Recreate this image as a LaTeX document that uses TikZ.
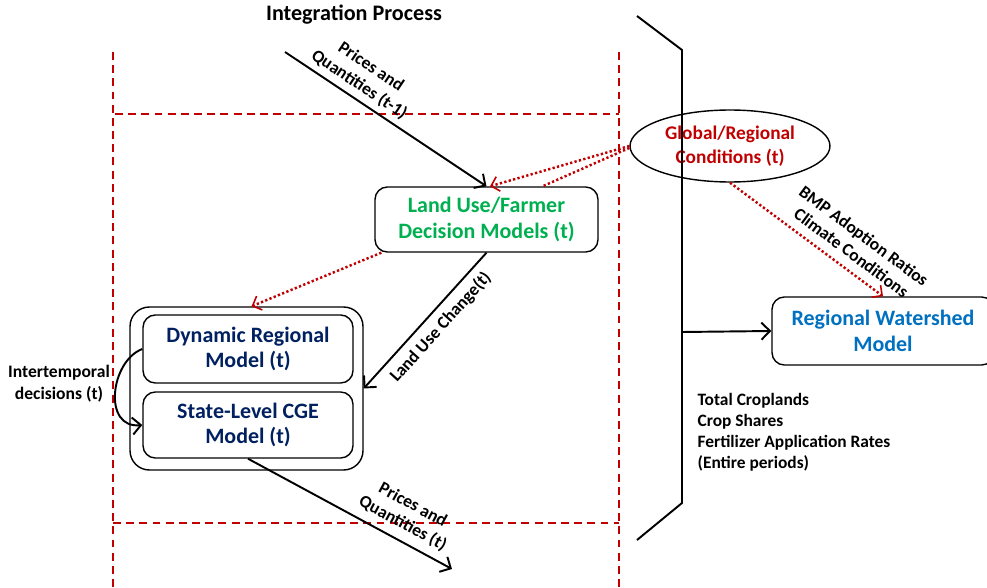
\documentclass[tikz,border=0pt]{standalone}
\usepackage{fontspec}
\setmainfont{Carlito}
\usetikzlibrary{arrows.meta,shapes.geometric}
\definecolor{redline}{RGB}{192,0,0}
\definecolor{greentext}{RGB}{0,176,80}
\definecolor{navytext}{RGB}{0,32,96}
\definecolor{bluetext}{RGB}{0,112,192}
\begin{document}
\begin{tikzpicture}[x=0.02cm,y=-0.02cm,
    box/.style={draw,rounded corners=7pt,line width=0.8pt,align=center,inner sep=0pt,
      font=\bfseries\fontsize{12.5}{14.7}\selectfont},
    lbl/.style={text=black,font=\bfseries\fontsize{10}{12}\selectfont,align=center,inner sep=3pt},
    arr/.style={line width=1.1pt,-{Straight Barb[length=1.7mm,width=3.4mm]}},
    redarr/.style={redline,line width=1.4pt,dash pattern=on 1.3pt off 1.3pt,
      -{Straight Barb[length=1.5mm,width=3mm,line width=0.9pt]}},
    border/.style={redline,line width=0.8pt,dash pattern=on 4.5pt off 3pt}]
    \useasboundingbox (0,0) rectangle (987,588);

    % integration frame
    \draw[border] (113,52) -- (113,588) (619,52) -- (619,588);
    \draw[border] (115,114) -- (619,114) (113,523) -- (619,523);
    \node[font=\bfseries\fontsize{12.6}{15}\selectfont] (title) at (354,15) {Integration Process};

    % models
    \node[box,text=greentext,minimum width=4.46cm,minimum height=1.3cm] (land) at (486.5,219.5)
        {Land Use/Farmer\\Decision Models (t)};
    \node[box,rounded corners=11pt,minimum width=4.66cm,minimum height=3.26cm] (outer) at (246.5,388.5) {};
    \node[box,text=navytext,minimum width=4.2cm,minimum height=1.36cm] (dyn) at (248,349)
        {Dynamic Regional\\Model (t)};
    \node[box,text=navytext,minimum width=4.2cm,minimum height=1.32cm] (state) at (248,425)
        {State-Level CGE\\Model (t)};
    \node[draw,ellipse,line width=0.8pt,text=redline,inner sep=0pt,minimum width=4cm,minimum height=1.44cm,
        align=center,font=\bfseries\fontsize{11}{13.5}\selectfont] (glob) at (730,146)
        {Global/Regional\\Conditions (t)};
    \node[box,text=bluetext,minimum width=4.44cm,minimum height=1.36cm] (water) at (883,331)
        {Regional Watershed\\Model};

    % bracket
    \coordinate (brk) at (682,332);
    \draw[line width=1.1pt] (637,16) -- (682,50) -- (682,503) -- (637,540);
    \node[lbl,font=\bfseries\fontsize{9.9}{11.9}\selectfont,align=left,anchor=north west] (out) at (692,388)
        {Total Croplands\\Crop Shares\\Fertilizer Application Rates\\(Entire periods)};

    % connectors
    \coordinate (pin) at (285,52);
    \coordinate (pout) at (452,569);
    \draw[arr] (pin) -- (land.north)
        node[lbl,sloped,above,pos=0.33] {Prices and\\Quantities (t-1)};
    \draw[arr] (land.south) -- (outer.east)
        node[lbl,sloped,below,pos=0.47,inner sep=4pt] {Land Use Change(t)};
    \draw[arr] (state.south) -- (pout)
        node[lbl,sloped,above,pos=0.72,inner sep=4.5pt] {Prices and\\Quantities (t)};
    \draw[arr] (brk) -- (water.west);
    \draw[arr] (dyn.west) .. controls +(-32,12) and +(-40,4) .. (state.west);
    \node[lbl,font=\bfseries\fontsize{10}{12.5}\selectfont] (inter) at (59,384) {Intertemporal\\decisions (t)};

    \draw[redarr] ([xshift=0.14cm]land.south west) -- ([xshift=0.1cm]outer.north);
    \draw[redarr] (glob.west) -- ([xshift=0.07cm]land.north);
    \draw[redline,line width=1.4pt,dash pattern=on 1.3pt off 1.3pt] ([yshift=-0.04cm]glob.west) -- ([xshift=1.12cm]land.north);
    \draw[redarr] (glob.south) -- (water.north)
        node[lbl,sloped,above,pos=0.73,inner sep=5pt] {BMP Adoption Ratios\\Climate Conditions};
\end{tikzpicture}
\end{document}
